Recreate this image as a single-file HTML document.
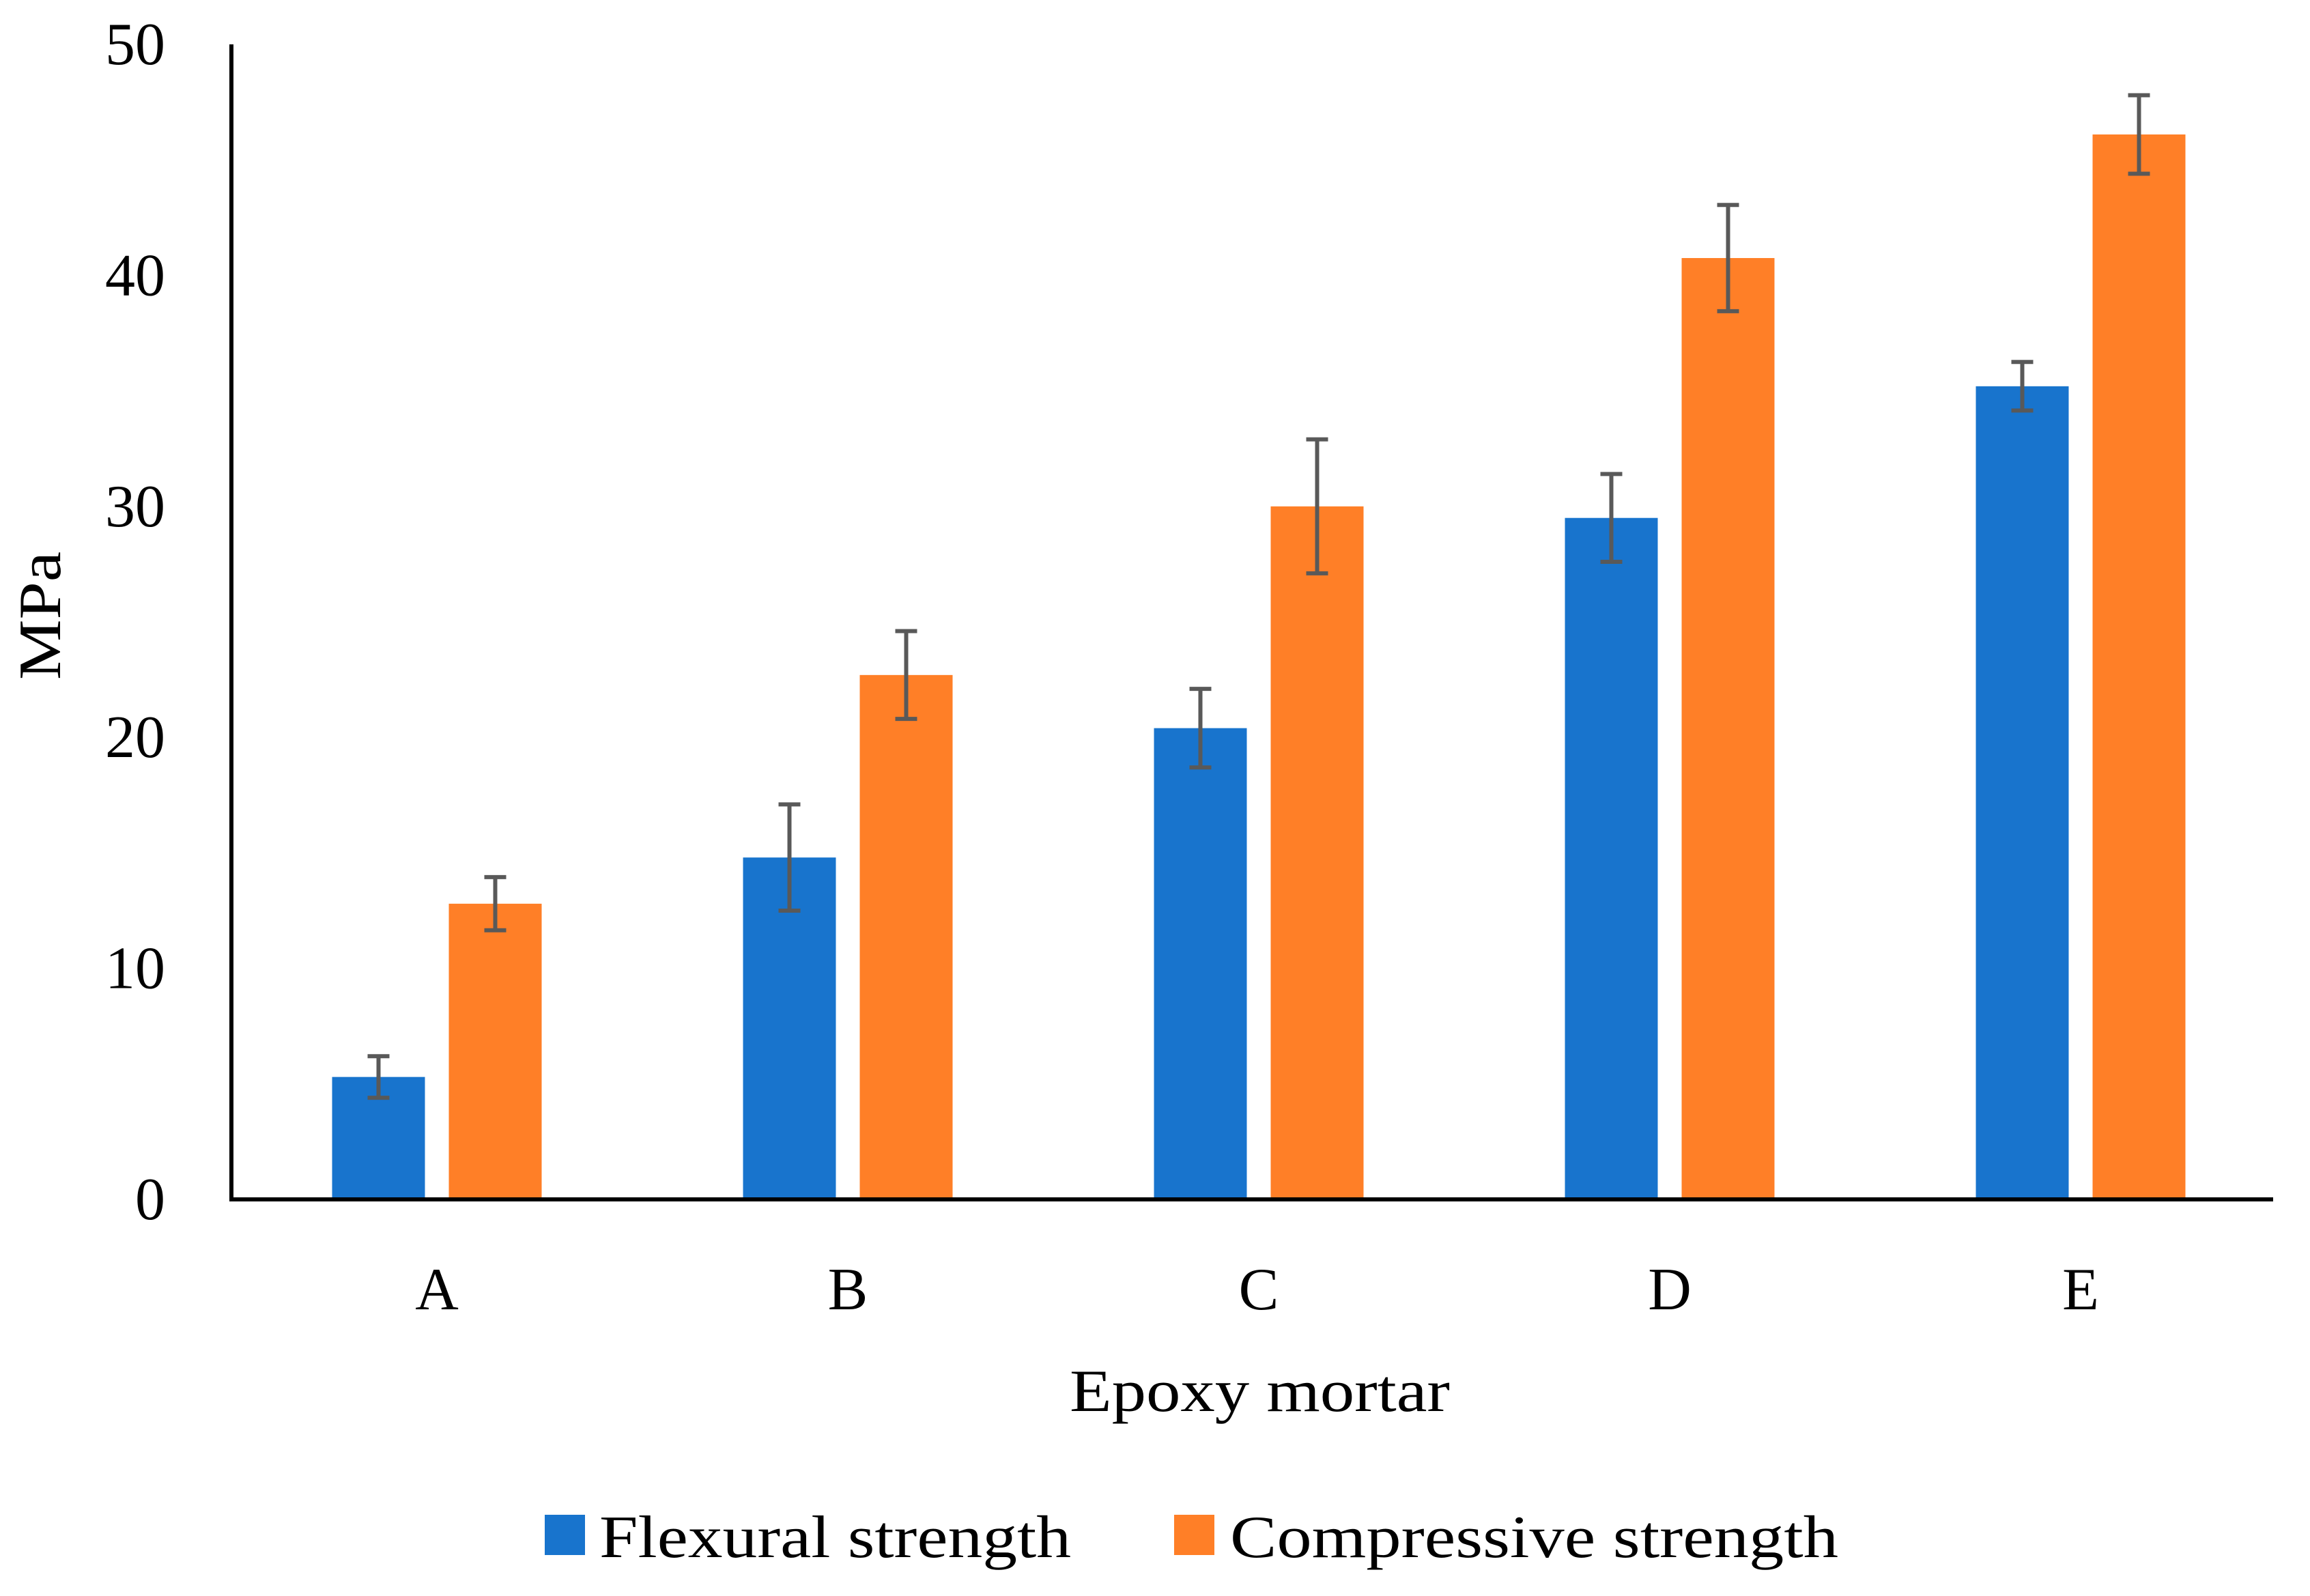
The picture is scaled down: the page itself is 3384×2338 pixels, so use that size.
<!DOCTYPE html>
<html><head><meta charset="utf-8"><style>
html,body{margin:0;padding:0;background:#fff;}
svg text{font-family:"Liberation Serif",serif;fill:#000;}
</style></head><body>
<svg id="chart" width="3384" height="2333" viewBox="0 0 3384 2333" xmlns="http://www.w3.org/2000/svg">
<rect width="3384" height="2333" fill="#fff"/>
<g id="plot"></g>
<text transform="translate(88,902) rotate(-90)" text-anchor="middle" font-size="88" textLength="188" lengthAdjust="spacingAndGlyphs">MPa</text>
<text x="1567" y="2067" font-size="88" textLength="557" lengthAdjust="spacingAndGlyphs">Epoxy mortar</text>
<g>
<rect x="798" y="2219" width="59" height="59" fill="#1874CD"/>
<text x="878" y="2281" font-size="88" textLength="691" lengthAdjust="spacingAndGlyphs">Flexural strength</text>
<rect x="1720" y="2219" width="59" height="59" fill="#FF7F27"/>
<text x="1802" y="2281" font-size="88" textLength="891" lengthAdjust="spacingAndGlyphs">Compressive strength</text>
</g>
</svg>
<script>
const categories = ["A","B","C","D","E"];
const flexural = [5.3, 14.8, 20.4, 29.5, 35.2];
const flexuralErr = [0.9, 2.3, 1.7, 1.9, 1.05];
const compressive = [12.8, 22.7, 30.0, 40.75, 46.1];
const compressiveErr = [1.15, 1.9, 2.9, 2.3, 1.7];
const yTicks = [0,10,20,30,40,50];

const NS="http://www.w3.org/2000/svg";
const g=document.getElementById('plot');
const x0=339, x1=3349, y0=1757, yTop=65, yMax=50;
const y=v=>y0-(v/yMax)*(y0-yTop);
const band=(x1-x0)/categories.length;
const cx=i=>x0+band*(i+0.5);
const bw=136, gap=35;
function mk(tag,attrs){const e=document.createElementNS(NS,tag);for(const k in attrs)e.setAttribute(k,attrs[k]);g.appendChild(e);return e;}

yTicks.forEach(t=>{
  const e=mk('text',{x:242,y:y(t)+29,'text-anchor':'end','font-size':88});
  e.textContent=t;
  
  
});
categories.forEach((c,i)=>{
  const e=mk('text',{x:cx(i),y:1918,'text-anchor':'middle','font-size':88});
  e.textContent=c;
  
  
});
function series(vals,errs,off,color,name){
  vals.forEach((v,i)=>{
    const bx=cx(i)+off-bw/2;
    const r=mk('rect',{x:bx,y:y(v),width:bw,height:y0-y(v),fill:color});
    
    
    const mx=cx(i)+off, hi=y(v+errs[i]), lo=y(v-errs[i]);
    const p=mk('path',{d:`M${mx-16},${hi}H${mx+16}M${mx},${hi}V${lo}M${mx-16},${lo}H${mx+16}`,stroke:'#595959','stroke-width':6,fill:'none'});
    
    
  });
}
series(flexural,flexuralErr,-(bw+gap)/2,'#1874CD','flexural');
series(compressive,compressiveErr,(bw+gap)/2,'#FF7F27','compressive');
const ya=mk('line',{x1:x0,y1:yTop,x2:x0,y2:y0+3,stroke:'#000','stroke-width':6});


const xa=mk('line',{x1:x0-3,y1:y0,x2:3330,y2:y0,stroke:'#000','stroke-width':6});


</script>
</body></html>
